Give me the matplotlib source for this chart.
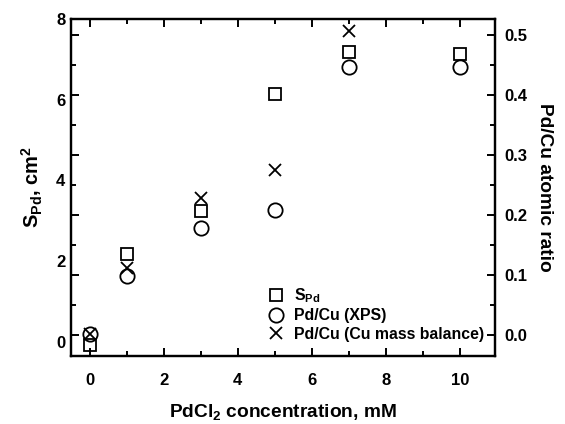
#!/usr/bin/env python3
"""
S_Pd and Pd/Cu atomic ratio vs PdCl2 concentration (two y axes).
"""

import matplotlib
matplotlib.use("Agg")
import matplotlib.pyplot as plt
from matplotlib.ticker import MultipleLocator, FormatStrFormatter

plt.rcParams["font.family"] = "Liberation Sans"
plt.rcParams["font.weight"] = "bold"
plt.rcParams["mathtext.fontset"] = "custom"
plt.rcParams["mathtext.rm"] = "Liberation Sans:bold"
plt.rcParams["mathtext.it"] = "Liberation Sans:bold"
plt.rcParams["mathtext.bf"] = "Liberation Sans:bold"
plt.rcParams["mathtext.default"] = "rm"

# data
conc_spd = [0, 1, 3, 5, 7, 10]
s_pd = [-0.07, 2.18, 3.24, 6.14, 7.18, 7.13]          # cm^2, left axis

conc_xps = [0, 1, 3, 5, 7, 10]
ratio_xps = [0.002, 0.098, 0.178, 0.208, 0.447, 0.447]  # right axis

conc_mass = [0, 1, 3, 5, 7]
ratio_mass = [0.002, 0.112, 0.228, 0.275, 0.507]       # right axis


def main():
    fig = plt.figure(figsize=(5.65, 4.24), dpi=100)
    ax = fig.add_axes([0.1257, 0.1604, 0.7503, 0.7948])
    ax2 = ax.twinx()

    mk = dict(linestyle="none", markerfacecolor="none", markeredgecolor="black",
              markeredgewidth=1.3, color="black")
    h1, = ax.plot(conc_spd, s_pd, marker="s", markersize=8, label="S$_{Pd}$", **mk)
    h2, = ax2.plot(conc_xps, ratio_xps, marker="o", markersize=10.3, label="Pd/Cu (XPS)", **mk)
    h3, = ax2.plot(conc_mass, ratio_mass, marker="x", markersize=9,
                   label="Pd/Cu (Cu mass balance)", **mk)

    ax.set_xlim(-0.5, 10.95)
    ax.set_ylim(-0.35, 8.0)
    ax2.set_ylim(-0.035, 0.527)

    ax.xaxis.set_major_locator(MultipleLocator(2))
    ax.xaxis.set_minor_locator(MultipleLocator(1))
    ax.yaxis.set_major_locator(MultipleLocator(2))
    ax2.yaxis.set_major_locator(MultipleLocator(0.1))
    ax2.yaxis.set_minor_locator(MultipleLocator(0.05))
    ax2.yaxis.set_major_formatter(FormatStrFormatter("%.1f"))

    ax.tick_params(axis="x", which="both", direction="in", top=True, width=1.4,
                   labelsize=12, pad=12)
    ax.tick_params(axis="x", which="major", length=6)
    ax.tick_params(axis="x", which="minor", length=3.5)
    ax.tick_params(axis="y", length=0, labelsize=12, pad=4)
    ax2.tick_params(axis="y", which="both", direction="in", left=True, right=True,
                    labelleft=False, labelright=True, width=1.4, labelsize=12, pad=7)
    ax2.tick_params(axis="y", which="major", length=6)
    ax2.tick_params(axis="y", which="minor", length=3.5)

    for a in (ax, ax2):
        for sp in a.spines.values():
            sp.set_linewidth(1.6)

    ax.set_xlabel("PdCl$_2$ concentration, mM", fontsize=13.8, fontweight="bold", labelpad=10)
    ax.set_ylabel("S$_{Pd}$, cm$^2$", fontsize=14.5, fontweight="bold", labelpad=8)
    ax2.set_ylabel("Pd/Cu atomic ratio", fontsize=13.8, fontweight="bold",
                   rotation=270, labelpad=18)

    ax2.legend(handles=[h1, h2, h3], loc="lower right", frameon=False, fontsize=11.4,
               handlelength=1.2, handletextpad=0.5, labelspacing=0.2,
               bbox_to_anchor=(1.0, 0.01), borderaxespad=0.3)

    fig.savefig("out.png", dpi=100)


if __name__ == "__main__":
    main()
